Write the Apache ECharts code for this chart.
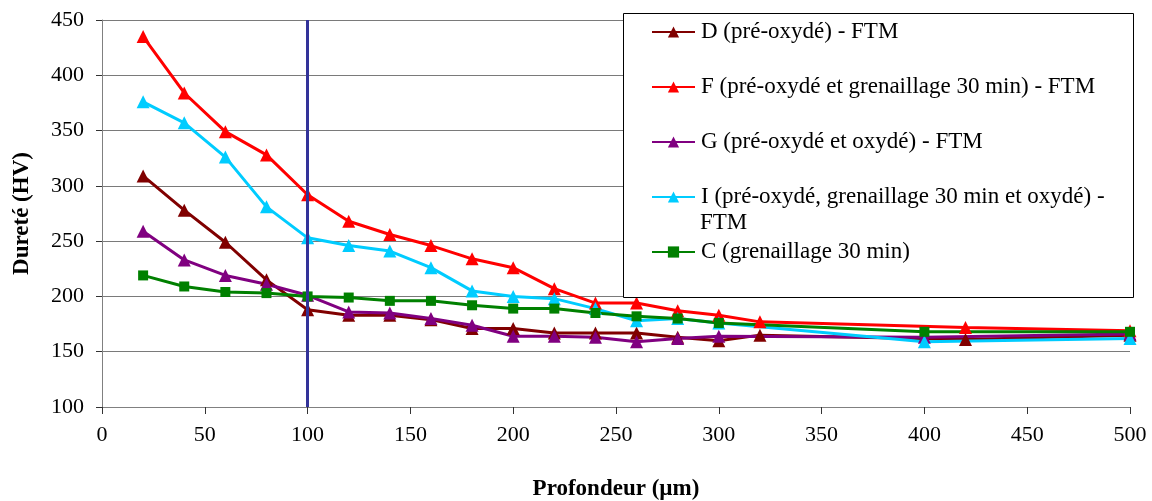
<!DOCTYPE html>
<html>
<head>
<meta charset="utf-8">
<script src="https://cdn.jsdelivr.net/npm/echarts@6/dist/echarts.min.js"></script>
<style>
html,body{margin:0;padding:0;background:#fff;}
#chart{width:1152px;height:501px;}
</style>
</head>
<body>
<div id="chart"></div>
<script>
// ---- data ----
const xD = [20,40,60,80,100,120,140,160,180,200,220,240,260,280,300,320,420,500];
const yD = [309,278,249,215,188,183,183,179,171,171,167,167,167,163,160,165,161,165];

const xF = [20,40,60,80,100,120,140,160,180,200,220,240,260,280,300,320,420,500];
const yF = [435,384,349,328,292,268,256,246,234,226,207,194,194,187,183,177,172,169];

const xG = [20,40,60,80,100,120,140,160,180,200,220,240,260,280,300,400,500];
const yG = [259,233,219,211,201,186,185,180,174,164,164,163,159,162,164,163,166];

const xI = [20,40,60,80,100,120,140,160,180,200,220,240,260,280,300,400,500];
const yI = [376,357,326,281,253,246,241,226,205,200,198,189,178,180,176,159,162];

const xC = [20,40,60,80,100,120,140,160,180,200,220,240,260,280,300,400,500];
const yC = [219,209,204,203,200,199,196,196,192,189,189,185,182,180,176,168,168];

const seriesNames = [
  'D (pré-oxydé) - FTM',
  'F (pré-oxydé et grenaillage 30 min) - FTM',
  'G (pré-oxydé et oxydé) - FTM',
  'I (pré-oxydé, grenaillage 30 min et oxydé) - FTM',
  'C (grenaillage 30 min)'
];
const legendLine1 = 'I (pré-oxydé, grenaillage 30 min et oxydé) -';
const legendLine2 = 'FTM';
const refDepth = 100;
const xTitle = 'Profondeur (µm)';
const yTitle = 'Dureté (HV)';

// ---- chart ----
const pairs = (xs, ys) => xs.map((x, i) => [x, ys[i]]);
const font = '"Liberation Serif", "Times New Roman", serif';

function mkSeries(name, xs, ys, color, symbol, size, extra) {
  return Object.assign({
    name: name,
    type: 'line',
    data: pairs(xs, ys),
    symbol: symbol,
    symbolSize: size,
    showSymbol: true,
    lineStyle: { color: color, width: 3 },
    itemStyle: { color: color },
    animation: false,
    z: 2
  }, extra || {});
}

const chart = echarts.init(document.getElementById('chart'), null, { renderer: 'canvas' });
chart.setOption({
  backgroundColor: '#ffffff',
  animation: false,
  textStyle: { fontFamily: font },
  grid: { left: 102, right: 22, top: 20, bottom: 94, containLabel: false, outerBoundsMode: 'none' },
  xAxis: {
    type: 'value', min: 0, max: 500, interval: 50,
    axisLine: { show: true, onZero: false, lineStyle: { color: '#808080', width: 1 } },
    axisTick: { show: true, inside: false, length: 7, lineStyle: { color: '#333' } },
    axisLabel: { color: '#000', fontSize: 22, fontFamily: font, margin: 17 },
    splitLine: { show: false },
    name: xTitle, nameLocation: 'middle', nameGap: 71,
    nameTextStyle: { color: '#000', fontSize: 23, fontWeight: 'bold', fontFamily: font }
  },
  yAxis: {
    type: 'value', min: 100, max: 450, interval: 50,
    axisLine: { show: true, onZero: false, lineStyle: { color: '#808080', width: 1 } },
    axisTick: { show: true, inside: false, length: 6, lineStyle: { color: '#333' } },
    axisLabel: { color: '#000', fontSize: 22, fontFamily: font, margin: 18 },
    splitLine: { show: true, lineStyle: { color: '#7a7a7a', width: 1 } },
    name: yTitle, nameLocation: 'middle', nameGap: 68, nameRotate: 90,
    nameTextStyle: { color: '#000', fontSize: 23, fontWeight: 'bold', fontFamily: font }
  },
  legend: {
    show: true,
    orient: 'vertical',
    left: 651, top: 20,
    itemWidth: 43, itemHeight: 14,
    itemGap: 31,
    padding: 0,
    data: seriesNames,
    textStyle: { color: '#000', fontSize: 23, fontFamily: font, lineHeight: 24, padding: [0,0,0,1] },
    formatter: function (name) { return name === seriesNames[3] ? legendLine1 : name; },
    z: 6
  },
  graphic: [
    { type: 'rect', left: 623, top: 13, z: 5, silent: true,
      shape: { width: 510, height: 284 },
      style: { fill: '#fff', stroke: '#000', lineWidth: 1 } },
    { type: 'text', left: 700, top: 211, z: 7, silent: true,
      style: { text: legendLine2, fill: '#000', fontSize: 23, fontFamily: font } }
  ],
  series: [
    mkSeries(seriesNames[0], xD, yD, '#800000', 'triangle', 13, {
      markLine: {
        silent: true, symbol: 'none', animation: false,
        label: { show: false },
        lineStyle: { color: '#333399', width: 3, type: 'solid' },
        data: [{ xAxis: refDepth }]
      }
    }),
    mkSeries(seriesNames[1], xF, yF, '#ff0000', 'triangle', 13),
    mkSeries(seriesNames[2], xG, yG, '#800080', 'triangle', 13),
    mkSeries(seriesNames[3], xI, yI, '#00ccff', 'triangle', 13),
    mkSeries(seriesNames[4], xC, yC, '#008000', 'rect', 10)
  ]
});
</script>
</body>
</html>
